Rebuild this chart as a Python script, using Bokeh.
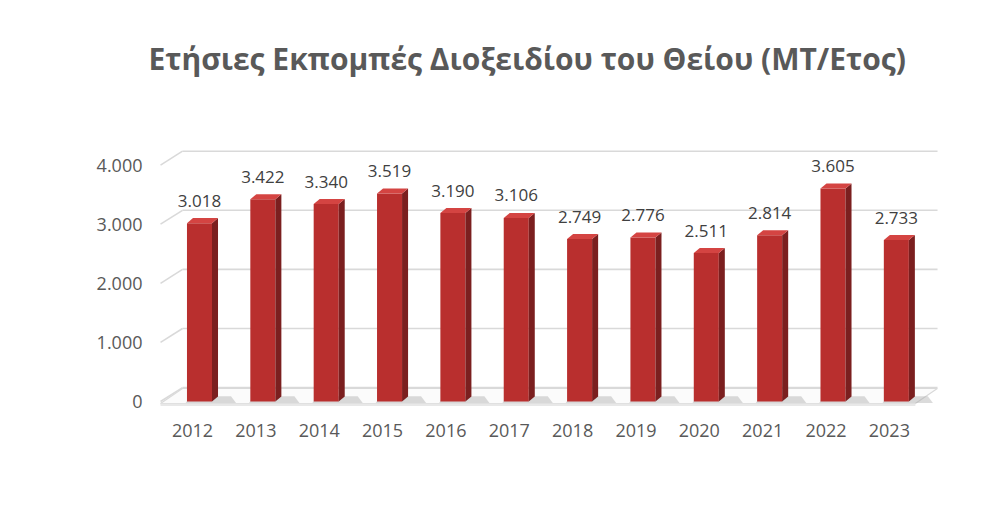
from bokeh.plotting import figure
from bokeh.models import FixedTicker, Range1d, ColumnDataSource, Title
from bokeh.core.properties import value
from bokeh.embed import file_html
from bokeh.resources import INLINE

# ---- data ----
years = ["2012", "2013", "2014", "2015", "2016", "2017",
         "2018", "2019", "2020", "2021", "2022", "2023"]
emissions = [3018, 3422, 3340, 3519, 3190, 3106,
             2749, 2776, 2511, 2814, 3605, 2733]
y_ticks = [0, 1000, 2000, 3000, 4000]
y_tick_labels = ["0", "1.000", "2.000", "3.000", "4.000"]
title_text = "Ετήσιες Εκπομπές Διοξειδίου του Θείου (ΜΤ/Ετος)"

# ---- style constants ----
TXT = "#595959"
GRID = "#d9d9d9"
FRONT = "#b92f2e"
SIDE = "#7b1f1f"
TOP = "#d44442"
FONT = "Open Sans"

W, H = 977, 492
p = figure(width=W, height=H, output_backend="svg", toolbar_location=None,
           x_range=Range1d(-0.537, 11.807), y_range=Range1d(-152, 4416),
           min_border_left=158, min_border_right=37,
           min_border_top=140, min_border_bottom=82)
p.outline_line_color = None
p.background_fill_color = "white"
p.border_fill_color = "white"
p.xgrid.visible = False
p.ygrid.visible = False

# spacer between frame and title (keeps the title high above the bars)
p.add_layout(Title(text=" ", text_font_size="10px", standoff=48), "above")

# title
p.title.text = title_text
p.title.text_font = FONT
p.title.text_font_style = "bold"
p.title.text_font_size = "30px"
p.title.text_color = TXT
p.title.align = "left"
p.title.offset = -10
p.title.vertical_align = "middle"
p.title.standoff = 0

# axes
n = len(years)
xs = list(range(n))
p.xaxis.ticker = FixedTicker(ticks=xs)
p.xaxis.major_label_overrides = {i: y for i, y in zip(xs, years)}
p.yaxis.ticker = FixedTicker(ticks=y_ticks)
p.yaxis.major_label_overrides = {t: l for t, l in zip(y_ticks, y_tick_labels)}
for ax in (p.xaxis[0], p.yaxis[0]):
    ax.axis_line_color = None
    ax.major_tick_line_color = None
    ax.minor_tick_line_color = None
    ax.major_label_text_font = FONT
    ax.major_label_text_font_size = "18px"
    ax.major_label_text_color = TXT
p.xaxis.major_label_standoff = 7
p.yaxis.major_label_standoff = 10

# 3D geometry (layout constants)
depth_x, depth_y = 0.347, 235        # back wall offset
x_front_left, x_right = -0.505, 11.76
x_back_left = x_front_left + depth_x

# back-wall gridlines with side-wall diagonals
gx0, gy0, gx1, gy1 = [], [], [], []
for t in y_ticks:
    gx0 += [x_front_left, x_back_left]
    gy0 += [t, t + depth_y]
    gx1 += [x_back_left, x_right]
    gy1 += [t + depth_y, t + depth_y]
p.segment(gx0, gy0, gx1, gy1, line_color=GRID, line_width=1.6)

# floor
floor_front = -34
p.patch([x_front_left, 11.41, 11.41 + depth_x, x_back_left],
        [floor_front, floor_front, depth_y - 15, depth_y - 15],
        fill_color="#fbfbfb", line_color=GRID, line_width=1.2)
p.patch([x_front_left, 11.41, 11.41, x_front_left],
        [floor_front, floor_front, floor_front - 40, floor_front - 40],
        fill_color="#e8e8e8", line_color=None)

# bars
off, bw = 0.11, 0.395
dxs, dys = 0.095, 85
cx = [i + off for i in xs]
xl = [c - bw / 2 for c in cx]
xr = [c + bw / 2 for c in cx]

# shadows
p.patches([[a - 0.02, b + 0.38, b + 0.3, a + 0.05] for a, b in zip(xl, xr)],
          [[-25, -25, 90, 90] for _ in xs],
          fill_color="#a6a6a6", fill_alpha=0.4, line_color=None)

src = ColumnDataSource(dict(x=cx, top=emissions))
p.vbar(x="x", top="top", bottom=0, width=bw, source=src,
       fill_color=FRONT, line_color=None)
p.patches([[b, b + dxs, b + dxs, b] for b in xr],
          [[0, dys, v + dys, v] for v in emissions],
          fill_color=SIDE, line_color=None)
p.patches([[a, b, b + dxs, a + dxs] for a, b in zip(xl, xr)],
          [[v, v, v + dys, v + dys] for v in emissions],
          fill_color=TOP, line_color=None)

# data labels
labels = [f"{v:,}".replace(",", ".") for v in emissions]
p.text(x=cx, y=[v + 380 for v in emissions], text=labels,
       text_font=value(FONT), text_font_size="17px", text_color="#404040",
       text_align="center", text_baseline="alphabetic")

open("out.html", "w").write(file_html(p, INLINE))
